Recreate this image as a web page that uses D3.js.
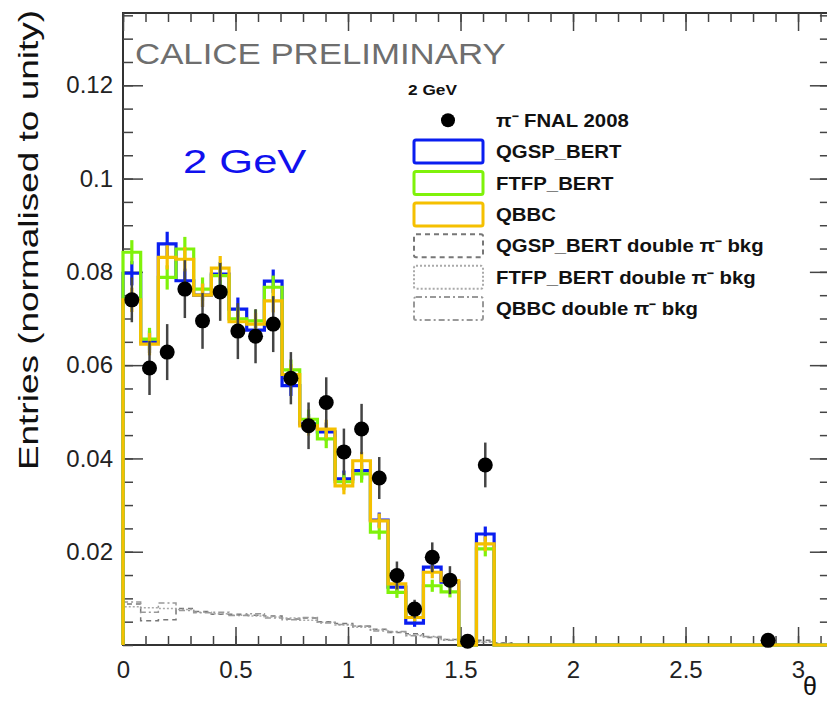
<!DOCTYPE html>
<html>
<head>
<meta charset="utf-8">
<script src="https://cdn.jsdelivr.net/npm/d3@7/dist/d3.min.js"></script>
<style>
  body { margin: 0; background: #fff; }
  svg { display: block; font-family: "Liberation Sans", Arial, Helvetica, sans-serif; }
</style>
</head>
<body>
<div id="chart"></div>
<script>
// 40 bins of theta between 0 and pi
const nBins = 40;
const thetaMax = Math.PI;

// pi- FNAL 2008 data (null = empty bin, not drawn)
const dataVals = [0.0740, 0.0594, 0.0628, 0.0763, 0.0695, 0.0757, 0.0673, 0.0662, 0.0688, 0.0572,
    0.0470, 0.0520, 0.0414, 0.0463, 0.0358, 0.0149, 0.0077, 0.0188, 0.0139, 0.0008,
    0.0386, null, null, null, null, null, null, null, null, null,
    null, null, null, null, null, null, 0.0010, null, null, null];
const dataErrs = [0.0048, 0.0058, 0.0060, 0.0062, 0.0060, 0.0062, 0.0060, 0.0058, 0.0060, 0.0056,
    0.0050, 0.0054, 0.0050, 0.0054, 0.0045, 0.0030, 0.0020, 0.0032, 0.0030, 0.0008,
    0.0048, 0, 0, 0, 0, 0, 0, 0, 0, 0,
    0, 0, 0, 0, 0, 0, 0.0008, 0, 0, 0];

// simulations
const qgspVals = [0.0797, 0.0650, 0.0860, 0.0781, 0.0750, 0.0795, 0.0720, 0.0675, 0.0780, 0.0556,
    0.0474, 0.0457, 0.0356, 0.0374, 0.0268, 0.0124, 0.0047, 0.0167, 0.0135, 0,
    0.0238, 0, 0, 0, 0, 0, 0, 0, 0, 0, 0, 0, 0, 0, 0, 0, 0, 0, 0, 0];
const ftfpVals = [0.0842, 0.0656, 0.0788, 0.0849, 0.0763, 0.0792, 0.0699, 0.0695, 0.0767, 0.0590,
    0.0484, 0.0442, 0.0350, 0.0367, 0.0242, 0.0113, 0.0059, 0.0127, 0.0114, 0,
    0.0206, 0, 0, 0, 0, 0, 0, 0, 0, 0, 0, 0, 0, 0, 0, 0, 0, 0, 0, 0];
const qbbcVals = [0.0740, 0.0645, 0.0831, 0.0827, 0.0750, 0.0808, 0.0693, 0.0688, 0.0738, 0.0580,
    0.0470, 0.0463, 0.0341, 0.0395, 0.0266, 0.0131, 0.0059, 0.0156, 0.0138, 0,
    0.0217, 0, 0, 0, 0, 0, 0, 0, 0, 0, 0, 0, 0, 0, 0, 0, 0, 0, 0, 0];
const mcErrs = [0.0026, 0.0024, 0.0026, 0.0026, 0.0025, 0.0026, 0.0025, 0.0024, 0.0025, 0.0022,
    0.0021, 0.0020, 0.0018, 0.0019, 0.0016, 0.0012, 0.0008, 0.0013, 0.0012, 0,
    0.0016, 0, 0, 0, 0, 0, 0, 0, 0, 0, 0, 0, 0, 0, 0, 0, 0, 0, 0, 0];

// double pi- background
const qgspBkg = [0.0088, 0.0052, 0.0054, 0.0078, 0.0072, 0.0066, 0.0066, 0.0064, 0.0062, 0.0056,
    0.0058, 0.0050, 0.0046, 0.0040, 0.0034, 0.0027, 0.0024, 0.0016, 0.0012, 0.0008,
    0.0010, 0.0005, 0, 0, 0, 0, 0, 0, 0, 0, 0, 0, 0, 0, 0, 0, 0, 0, 0, 0];
const ftfpBkg = [0.0082, 0.0080, 0.0078, 0.0076, 0.0070, 0.0067, 0.0064, 0.0062, 0.0060, 0.0058,
    0.0053, 0.0049, 0.0043, 0.0038, 0.0032, 0.0028, 0.0022, 0.0017, 0.0012, 0.0008,
    0.0006, 0.0004, 0, 0, 0, 0, 0, 0, 0, 0, 0, 0, 0, 0, 0, 0, 0, 0, 0, 0];
const qbbcBkg = [0.0092, 0.0070, 0.0090, 0.0074, 0.0069, 0.0070, 0.0063, 0.0067, 0.0058, 0.0054,
    0.0059, 0.0047, 0.0044, 0.0041, 0.0030, 0.0029, 0.0020, 0.0018, 0.0010, 0.0009,
    0.0007, 0.0003, 0, 0, 0, 0, 0, 0, 0, 0, 0, 0, 0, 0, 0, 0, 0, 0, 0, 0];

const xMajorTicks = [0, 0.5, 1, 1.5, 2, 2.5, 3];
const yMajorTicks = [0.02, 0.04, 0.06, 0.08, 0.1, 0.12];

const legendItems = [
    { label: "\u03c0\u207b FNAL 2008", type: "dot" },
    { label: "QGSP_BERT", type: "box", color: "#0a1ef0" },
    { label: "FTFP_BERT", type: "box", color: "#7ff20a" },
    { label: "QBBC", type: "box", color: "#f5c000" },
    { label: "QGSP_BERT double \u03c0\u207b bkg", type: "box", color: "#777", dash: "5,4" },
    { label: "FTFP_BERT double \u03c0\u207b bkg", type: "box", color: "#aaa", dash: "2,2" },
    { label: "QBBC double \u03c0\u207b bkg", type: "box", color: "#999", dash: "6,3,2,3" }
];

const width = 827;
const height = 705;

const svg = d3.select("#chart")
    .append("svg")
    .attr("width", width)
    .attr("height", height);

const x = d3.scaleLinear().domain([0, thetaMax]).range([123, 829.9]);
const y = d3.scaleLinear().domain([0, 0.1355]).range([645, 13]);
const binW = thetaMax / nBins;
const edge = i => i * binW;
const centre = i => (i + 0.5) * binW;

// the original fonts are drawn wider than Liberation Sans, so widen them
function widen(sel, f) {
    const w = sel.node().getComputedTextLength();
    sel.attr("textLength", w * f).attr("lengthAdjust", "spacingAndGlyphs");
    return sel;
}

// frame
svg.append("rect")
    .attr("x", x(0)).attr("y", y.range()[1])
    .attr("width", x(thetaMax) - x(0))
    .attr("height", y(0) - y.range()[1])
    .attr("fill", "none")
    .attr("stroke", "#333")
    .attr("stroke-width", 2);

// axes: ticks point inwards on all four sides
function ticks(axis, pos, values, size, labels) {
    const g = svg.append("g")
        .attr("transform", pos)
        .call(axis.tickValues(values).tickSize(size).tickPadding(labels ? 10 : 0)
            .tickFormat(labels ? d3.format("") : ""));
    g.select(".domain").remove();
    g.selectAll("line").attr("stroke", "#444").attr("stroke-width", 1.5);
    g.selectAll("text").attr("fill", "#222").attr("font-size", 24);
    return g;
}
const xMinor = d3.range(0, 3.15, 0.1);
const yMinor = d3.range(0, 0.1351, 0.005);
ticks(d3.axisBottom(x), `translate(0,${y(0)})`, xMinor, -9, false);
ticks(d3.axisBottom(x), `translate(0,${y(0)})`, xMajorTicks, -18, true)
    .selectAll("text").attr("dy", "0.95em");
ticks(d3.axisTop(x), `translate(0,${y.range()[1]})`, xMinor, -9, false);
ticks(d3.axisTop(x), `translate(0,${y.range()[1]})`, xMajorTicks, -18, false);
ticks(d3.axisLeft(y), `translate(${x(0)},0)`, yMinor, -10, false);
ticks(d3.axisLeft(y), `translate(${x(0)},0)`, yMajorTicks, -20, true);
ticks(d3.axisRight(y), `translate(${x(thetaMax)},0)`, yMinor, -10, false);
ticks(d3.axisRight(y), `translate(${x(thetaMax)},0)`, yMajorTicks, -20, false);

// step histogram path
function stepPath(vals) {
    const pts = [[0, 0]];
    vals.forEach((v, i) => pts.push([edge(i), v]));
    pts.push([thetaMax, vals[vals.length - 1]]);
    return d3.line()
        .x(d => x(d[0]))
        .y(d => y(d[1]))
        .curve(d3.curveStepAfter)(pts);
}

// background histograms
[[qgspBkg, "#777", "5,4"], [ftfpBkg, "#aaa", "2,2"], [qbbcBkg, "#999", "6,3,2,3"]].forEach(([vals, col, dash]) => {
    svg.append("path")
        .attr("d", stepPath(vals))
        .attr("fill", "none")
        .attr("stroke", col)
        .attr("stroke-width", 1.5)
        .attr("stroke-dasharray", dash);
});

// simulation histograms with error crosses
const mcSeries = [
    { vals: qgspVals, color: "#0a1ef0" },
    { vals: ftfpVals, color: "#7ff20a" },
    { vals: qbbcVals, color: "#f5c000" }
];
mcSeries.forEach(s => {
    svg.append("path")
        .attr("d", stepPath(s.vals))
        .attr("fill", "none")
        .attr("stroke", s.color)
        .attr("stroke-width", 3.2);
    svg.append("g").selectAll("line")
        .data(s.vals.map((v, i) => ({ v, e: mcErrs[i], i })).filter(d => d.v > 0))
        .enter()
        .append("line")
        .attr("x1", d => x(centre(d.i))).attr("x2", d => x(centre(d.i)))
        .attr("y1", d => y(d.v - d.e)).attr("y2", d => y(d.v + d.e))
        .attr("stroke", s.color)
        .attr("stroke-width", 3.2);
});

// data points
const pts = dataVals.map((v, i) => ({ v, e: dataErrs[i], i })).filter(d => d.v !== null);
svg.append("g").selectAll("line")
    .data(pts)
    .enter()
    .append("line")
    .attr("x1", d => x(centre(d.i))).attr("x2", d => x(centre(d.i)))
    .attr("y1", d => y(d.v - d.e)).attr("y2", d => y(d.v + d.e))
    .attr("stroke", "#444")
    .attr("stroke-width", 2.5);
svg.append("g").selectAll("circle")
    .data(pts)
    .enter()
    .append("circle")
    .attr("cx", d => x(centre(d.i)))
    .attr("cy", d => y(d.v))
    .attr("r", 7.5)
    .attr("fill", "#000");

// titles
widen(svg.append("text")
    .attr("x", 135).attr("y", 64)
    .attr("font-size", 30)
    .attr("fill", "#6e6e6e")
    .text("CALICE PRELIMINARY"), 1.16);

widen(svg.append("text")
    .attr("x", 183).attr("y", 173)
    .attr("font-size", 34)
    .attr("fill", "#1010ee")
    .text("2 GeV"), 1.28);

widen(svg.append("text")
    .attr("transform", "translate(38,10) rotate(-90)")
    .attr("text-anchor", "end")
    .attr("font-size", 28)
    .attr("fill", "#111")
    .text("Entries (normalised to unity)"), 1.32);

svg.append("text")
    .attr("x", 803).attr("y", 695)
    .attr("font-size", 25)
    .attr("fill", "#111")
    .text("\u03b8");

// legend
const legend = svg.append("g").attr("font-weight", "bold").attr("fill", "#111");
widen(legend.append("text")
    .attr("x", 408).attr("y", 95)
    .attr("font-size", 15)
    .text("2 GeV"), 1.15);
legendItems.forEach((d, i) => {
    const base = 126.7 + i * 31.4;
    const row = legend.append("g");
    if (d.type === "dot") {
        row.append("circle")
            .attr("cx", 448).attr("cy", base - 6.5)
            .attr("r", 7).attr("fill", "#000");
    } else {
        row.append("rect")
            .attr("x", 414).attr("y", base - 18)
            .attr("width", 69).attr("height", 23)
            .attr("rx", 2)
            .attr("fill", "none")
            .attr("stroke", d.color)
            .attr("stroke-width", d.dash ? 2 : 3)
            .attr("stroke-dasharray", d.dash || null);
    }
    widen(row.append("text")
        .attr("x", 496).attr("y", base)
        .attr("font-size", 18)
        .text(d.label), 1.13);
});
</script>
</body>
</html>
